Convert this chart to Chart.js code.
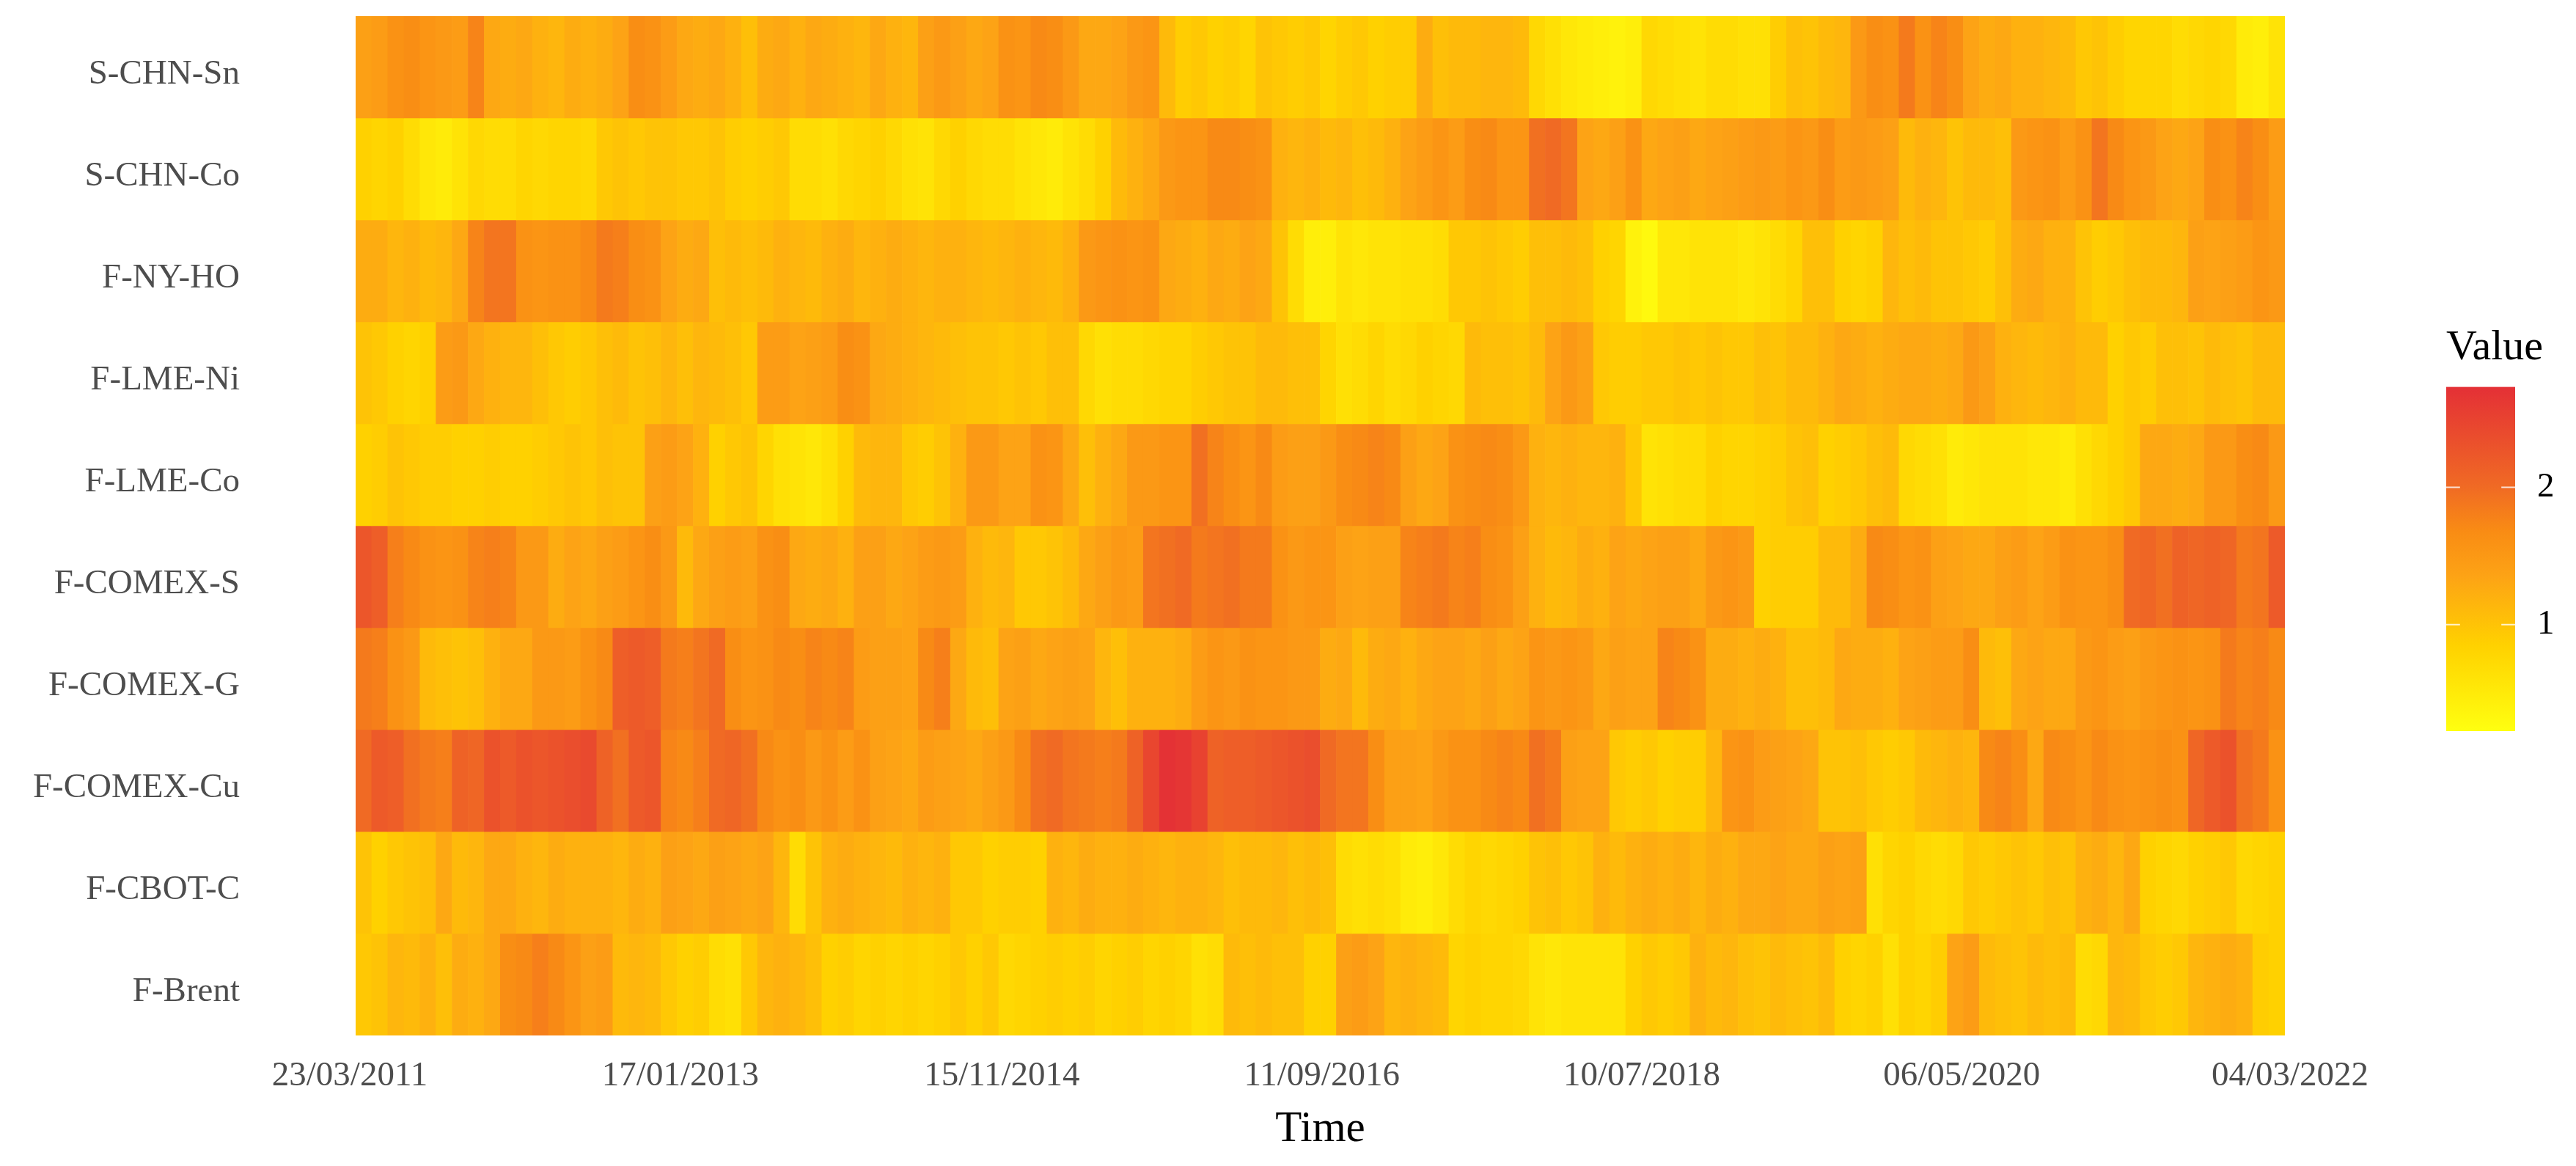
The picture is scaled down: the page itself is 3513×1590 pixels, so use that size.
<!DOCTYPE html>
<html>
<head>
<meta charset="utf-8">
<title>Heatmap</title>
<script src="https://cdn.jsdelivr.net/npm/chart.js@4/dist/chart.umd.min.js"></script>
<style>
    html, body { margin: 0; padding: 0; background: #fff; }
    #heat { position: absolute; left: 0; top: 0; }
    #bar { position: absolute; left: 3280px; top: 430px; }
</style>
</head>
<body>
<canvas id="heat" width="3513" height="1590"></canvas>
<canvas id="bar" width="233" height="590"></canvas>
<script>
// Row labels, top to bottom
const rowLabels = ['S-CHN-Sn', 'S-CHN-Co', 'F-NY-HO', 'F-LME-Ni', 'F-LME-Co', 'F-COMEX-S', 'F-COMEX-G', 'F-COMEX-Cu', 'F-CBOT-C', 'F-Brent'];

const dateLabels = ['23/03/2011', '17/01/2013', '15/11/2014', '11/09/2016', '10/07/2018', '06/05/2020', '04/03/2022'];
const datePositions = [-0.865, 19.7, 39.7, 59.6, 79.5, 99.4, 119.82];

// Values, 120 columns per row
const sChnSn = [1.4,1.45,1.6,1.65,1.55,1.5,1.45,1.75,1.3,1.25,1.3,1.2,1.15,1.25,1.2,1.25,1.35,1.65,1.6,1.45,1.3,1.25,1.3,1.2,1.05,1.25,1.3,1.2,1.3,1.25,1.2,1.15,1.3,1.2,1.15,1.4,1.5,
    1.4,1.3,1.35,1.6,1.55,1.7,1.65,1.5,1.3,1.3,1.35,1.5,1.55,1.1,.9,.95,.85,.9,.8,1.0,.95,.9,.95,.8,.9,.95,.85,.9,.9,1.25,1.05,1.1,1.1,1.15,1.15,1.1,.75,.65,.55,.5,.45,.4,.45,.75,.7,.65,.6,.7,.7,.65,.65,.9,1.05,1.0,1.1,
    1.15,1.5,1.65,1.6,1.85,1.6,1.75,1.65,1.35,1.25,1.3,1.2,1.2,1.15,1.1,.95,1.0,.9,.8,.8,.8,.7,.75,.8,.75,.5,.45,.6];
const sChnCo = [.85,.8,.85,.7,.55,.5,.6,.75,.7,.7,.8,.75,.8,.8,.75,.95,1.0,.95,1.0,1.0,.95,.95,1.0,.9,.85,.9,.95,.7,.7,.65,.75,.8,.85,.75,.65,.6,.75,
    .85,.75,.7,.7,.6,.55,.5,.6,.7,.85,1.1,1.2,1.3,1.5,1.55,1.55,1.7,1.7,1.65,1.6,1.2,1.15,1.2,1.1,1.15,1.05,1.1,1.2,1.35,1.45,1.55,1.45,1.65,1.7,1.55,1.55,1.95,2.0,1.9,1.35,1.3,1.4,1.6,1.3,1.35,1.4,1.3,1.35,1.4,1.45,1.5,1.45,1.55,1.5,1.65,
    1.45,1.5,1.45,1.4,1.1,1.2,1.15,1.0,1.1,1.1,1.05,1.5,1.55,1.6,1.45,1.6,1.9,1.7,1.55,1.5,1.35,1.3,1.35,1.65,1.6,1.75,1.65,1.45];
const fNyHo = [1.25,1.25,1.15,1.2,1.1,1.15,1.3,1.75,1.9,1.9,1.6,1.55,1.6,1.6,1.7,1.85,1.8,1.65,1.6,1.35,1.25,1.3,1.05,1.1,1.05,1.1,1.2,1.15,1.1,1.2,1.25,1.15,1.2,1.25,1.2,1.15,1.2,
    1.2,1.15,1.1,1.15,1.2,1.15,1.1,1.2,1.5,1.55,1.6,1.55,1.6,1.3,1.25,1.2,1.3,1.25,1.35,1.3,1.0,.7,.45,.45,.6,.55,.6,.6,.65,.65,.7,.95,.95,1.0,.95,.9,1.05,1.05,1.1,1.05,.85,.8,.4,.3,.55,.55,.6,.6,.6,.55,.6,.7,.8,1.05,1.05,
    .85,.8,.85,1.15,1.05,1.1,1.0,1.0,.95,.9,1.05,1.25,1.3,1.2,1.2,1.0,.9,.95,1.05,1.1,1.1,1.15,1.4,1.35,1.4,1.45,1.55,1.5];
const fLmeNi = [1.0,.95,.85,.8,.85,1.45,1.5,1.3,1.2,1.15,1.15,1.05,.95,.9,.95,1.05,1.1,1.0,1.05,1.15,1.05,1.15,1.1,1.05,.95,1.45,1.45,1.35,1.4,1.45,1.65,1.6,1.3,1.25,1.2,1.15,1.1,
    1.05,1.0,1.0,.95,1.0,.95,1.05,1.05,.75,.65,.7,.7,.75,.8,.8,.9,.95,1.0,1.0,1.1,1.1,1.05,1.05,.8,.65,.7,.8,.7,.75,.85,.8,.75,1.1,1.05,1.05,1.0,1.1,1.35,1.5,1.4,.95,.9,.9,.95,.95,1.0,.95,1.0,.95,.95,1.05,1.0,1.1,1.1,1.2,
    1.3,1.25,1.2,1.25,1.3,1.3,1.25,1.3,1.5,1.4,1.2,1.15,1.1,1.15,1.2,1.1,1.1,.85,.95,.9,1.05,1.05,1.0,1.1,1.05,1.0,1.1,1.1];
const fLmeCo = [.85,.9,1.0,.95,.9,.9,.85,.85,.9,.85,.85,.9,.95,1.0,.95,1.05,1.0,1.0,1.4,1.45,1.35,1.2,.85,.95,1.0,.8,.65,.6,.55,.65,.85,1.1,1.15,1.15,.95,.9,1.0,
    1.2,1.5,1.5,1.35,1.35,1.6,1.55,1.3,1.05,1.2,1.3,1.5,1.5,1.55,1.55,1.95,1.75,1.65,1.55,1.7,1.45,1.4,1.4,1.5,1.65,1.7,1.75,1.7,1.4,1.3,1.35,1.6,1.65,1.7,1.65,1.5,1.2,1.15,1.2,1.15,1.15,1.2,.95,.6,.65,.7,.7,.85,.8,.8,.85,.9,1.0,1.05,.85,
    .9,.95,1.05,1.1,.75,.7,.65,.5,.55,.6,.6,.6,.55,.55,.5,.65,.75,.85,.95,1.3,1.3,1.25,1.3,1.5,1.5,1.65,1.7,1.5];
const fComexS = [2.25,2.15,1.8,1.7,1.6,1.55,1.6,1.75,1.8,1.75,1.5,1.5,1.25,1.35,1.3,1.4,1.45,1.55,1.65,1.5,1.1,1.3,1.4,1.45,1.4,1.6,1.65,1.3,1.25,1.3,1.2,1.4,1.4,1.3,1.35,1.45,1.5,
    1.45,1.2,1.1,1.15,.95,.95,1.0,1.1,1.3,1.4,1.5,1.45,1.9,1.95,2.0,1.85,1.9,1.95,1.85,1.85,1.6,1.5,1.55,1.55,1.4,1.35,1.4,1.4,1.75,1.8,1.85,1.75,1.8,1.65,1.6,1.4,1.2,1.1,1.15,1.25,1.2,1.35,1.3,1.35,1.4,1.4,1.3,1.5,1.55,1.5,.85,.9,.9,.9,1.1,
    1.1,1.25,1.7,1.65,1.55,1.6,1.4,1.35,1.3,1.3,1.4,1.45,1.35,1.45,1.6,1.55,1.55,1.65,2.0,2.05,1.95,2.1,2.05,2.1,2.05,1.85,1.9,2.2];
const fComexG = [1.85,1.8,1.6,1.5,1.1,1.05,1.0,1.05,1.2,1.3,1.3,1.5,1.5,1.45,1.6,1.7,2.15,2.2,2.15,1.85,1.8,1.9,2.0,1.65,1.55,1.6,1.7,1.65,1.75,1.7,1.75,1.45,1.4,1.4,1.35,1.7,1.8,
    1.3,1.1,1.05,1.35,1.4,1.3,1.35,1.4,1.35,1.15,1.05,1.2,1.2,1.2,1.25,1.45,1.55,1.5,1.6,1.55,1.55,1.5,1.5,1.25,1.3,1.1,1.25,1.3,1.2,1.3,1.35,1.35,1.3,1.4,1.3,1.35,1.55,1.5,1.55,1.5,1.3,1.4,1.35,1.35,1.75,1.7,1.6,1.25,1.25,1.2,1.25,1.2,1.05,1.05,1.1,
    1.3,1.25,1.25,1.2,1.35,1.4,1.45,1.45,1.65,1.1,1.05,1.3,1.35,1.3,1.3,1.5,1.55,1.45,1.4,1.5,1.55,1.6,1.55,1.6,1.85,1.75,1.8,1.7];
const fComexCu = [2.0,2.2,2.15,1.95,1.85,1.8,2.1,2.05,2.3,2.2,2.3,2.25,2.3,2.35,2.4,2.1,1.95,2.2,2.25,1.75,1.7,1.8,2.0,2.05,1.95,1.7,1.6,1.65,1.5,1.6,1.45,1.6,1.4,1.35,1.3,1.45,1.4,
    1.35,1.3,1.4,1.5,1.7,1.95,2.0,1.9,1.85,1.8,1.85,2.1,2.45,2.7,2.65,2.5,2.1,2.15,2.15,2.2,2.25,2.3,2.35,2.0,1.9,1.9,1.65,1.4,1.4,1.35,1.5,1.6,1.6,1.7,1.75,1.7,1.95,1.85,1.4,1.35,1.35,.95,.9,.95,.85,.9,.9,1.15,1.55,1.6,1.45,1.4,1.35,1.3,1.0,
    1.0,1.05,.95,.9,.95,1.1,1.15,1.2,1.15,1.7,1.75,1.65,1.3,1.7,1.65,1.55,1.7,1.6,1.55,1.6,1.65,1.6,2.05,2.2,2.3,1.95,1.85,1.6];
const fCbotC = [1.0,.85,.95,1.0,1.05,1.3,1.1,1.15,1.3,1.3,1.2,1.15,1.25,1.2,1.2,1.2,1.15,1.25,1.2,1.4,1.35,1.3,1.4,1.35,1.3,1.35,1.15,.7,1.0,1.2,1.25,1.2,1.15,1.1,1.2,1.15,1.2,
    .95,.95,.85,.9,.9,.85,1.2,1.15,1.25,1.2,1.2,1.25,1.2,1.15,1.2,1.2,1.15,1.05,1.1,1.1,1.15,1.05,1.1,1.05,.7,.65,.7,.65,.5,.45,.55,.7,.8,.75,.8,.85,1.0,1.05,.95,1.0,1.2,1.1,1.2,1.25,1.2,1.25,1.15,1.25,1.2,1.3,1.3,1.35,1.3,1.3,1.4,
    1.35,1.4,.65,.8,.85,.75,.7,.75,.95,.9,.95,1.0,.95,1.05,1.0,1.2,1.25,1.15,1.3,.85,.8,.75,.85,.9,.95,.75,.8,.85];
const fBrent = [.95,1.0,1.15,1.1,1.2,1.05,1.25,1.2,1.3,1.65,1.7,1.8,1.7,1.55,1.4,1.45,1.1,1.15,1.1,.95,.85,.9,.7,.65,.95,1.15,1.2,1.15,1.05,.85,.9,.8,.85,.8,.85,.8,.85,
    .95,.85,.95,.75,.8,.85,.9,.85,.9,.8,.85,.9,.8,.85,.8,.65,.7,1.1,1.05,1.1,1.05,1.05,.85,.85,1.4,1.45,1.35,1.15,1.2,1.15,1.1,.8,.85,.8,.8,.75,.6,.55,.6,.6,.6,.6,.85,.95,.9,.95,1.2,1.1,1.15,1.05,1.0,1.1,1.05,1.0,1.1,
    .85,.8,.85,.65,.85,.8,.9,1.35,1.45,1.1,1.05,1.0,1.1,1.05,1.1,.7,.75,1.15,1.1,.95,.9,.95,1.15,1.2,1.25,1.2,.9,.85];

const rowValues = [sChnSn, sChnCo, fNyHo, fLmeNi, fLmeCo, fComexS, fComexG, fComexCu, fCbotC, fBrent];

// Colour scale
const valueMin = 0.225;
const valueMax = 2.73;
const legendTicks = [1, 2];
const rampStops = [0, 0.25, 0.45, 0.58, 0.71, 1];
const rampColors = ['#FFFF10', '#FFD100', '#FDA315', '#F98C14', '#F06A24', '#E43036'];

function hexToRgb(hex) {
    return [1, 3, 5].map(i => parseInt(hex.slice(i, i + 2), 16));
}

function valueColor(v) {
    const t = Math.min(1, Math.max(0, (v - valueMin) / (valueMax - valueMin)));
    let i = 0;
    while (i < rampStops.length - 2 && t > rampStops[i + 1]) i++;
    const f = (t - rampStops[i]) / (rampStops[i + 1] - rampStops[i]);
    const a = hexToRgb(rampColors[i]);
    const b = hexToRgb(rampColors[i + 1]);
    const c = a.map((ch, k) => Math.round(ch + (b[k] - ch) * f));
    return `rgb(${c[0]}, ${c[1]}, ${c[2]})`;
}

const serif = 'Liberation Serif';

// Main heat map: one stacked bar dataset per row, one unit high
new Chart(document.getElementById('heat'), {
    type: 'bar',
    data: {
        labels: sChnSn.map((_, i) => i),
        datasets: rowLabels.map((name, r) => ({
            label: name,
            data: rowValues[r].map(() => 1),
            backgroundColor: rowValues[r].map(valueColor),
            borderWidth: 0,
            barPercentage: 1,
            categoryPercentage: 1
        }))
    },
    options: {
        responsive: false,
        animation: false,
        layout: { padding: { top: 22, right: 397 } },
        plugins: { legend: { display: false }, tooltip: { enabled: false } },
        scales: {
            x: {
                stacked: true,
                grid: { display: false, drawTicks: false },
                border: { display: false },
                afterBuildTicks: scale => { scale.ticks = datePositions.map(v => ({ value: v })); },
                afterFit: scale => { scale.height = 178; },
                ticks: {
                    autoSkip: false,
                    maxRotation: 0,
                    padding: 27,
                    color: '#4d4d4d',
                    font: { family: serif, size: 47 },
                    callback: (value, i) => dateLabels[i]
                },
                title: {
                    display: true,
                    text: 'Time',
                    color: '#000',
                    font: { family: serif, size: 59 },
                    padding: { top: 0, bottom: 14 }
                }
            },
            y: {
                stacked: true,
                reverse: true,
                min: 0,
                max: rowLabels.length,
                grid: { display: false, drawTicks: false },
                border: { display: false },
                afterBuildTicks: scale => { scale.ticks = rowLabels.map((_, r) => ({ value: r + 0.57 })); },
                // the big tick padding must not push the plot area in
                afterFit: scale => { scale.width = 485; scale.paddingTop = 0; scale.paddingBottom = 0; },
                ticks: {
                    autoSkip: false,
                    padding: 158,
                    color: '#4d4d4d',
                    font: { family: serif, size: 47 },
                    callback: (value, i) => rowLabels[i]
                }
            }
        }
    }
});

// White tick marks inside the colour bar
const barTicks = {
    id: 'barTicks',
    afterDatasetsDraw(chart) {
        const { ctx, chartArea, scales } = chart;
        const len = (chartArea.right - chartArea.left) * 0.2;
        ctx.save();
        ctx.strokeStyle = 'rgba(255, 255, 255, 0.8)';
        ctx.lineWidth = 2;
        legendTicks.forEach(v => {
            const y = scales.y.getPixelForValue(v);
            ctx.beginPath();
            ctx.moveTo(chartArea.left, y);
            ctx.lineTo(chartArea.left + len, y);
            ctx.moveTo(chartArea.right - len, y);
            ctx.lineTo(chartArea.right, y);
            ctx.stroke();
        });
        ctx.restore();
    }
};

function barGradient(context) {
    const area = context.chart.chartArea;
    if (!area) return rampColors[0];
    const g = context.chart.ctx.createLinearGradient(0, area.bottom, 0, area.top);
    rampStops.forEach((s, i) => g.addColorStop(s, rampColors[i]));
    return g;
}

// Colour legend
new Chart(document.getElementById('bar'), {
    type: 'bar',
    data: {
        labels: ['Value'],
        datasets: [{
            data: [[valueMin, valueMax]],
            backgroundColor: barGradient,
            borderWidth: 0,
            borderSkipped: false,
            barPercentage: 1,
            categoryPercentage: 1
        }]
    },
    plugins: [barTicks],
    options: {
        responsive: false,
        animation: false,
        layout: { padding: { left: 56, bottom: 23 } },
        plugins: {
            legend: { display: false },
            tooltip: { enabled: false },
            title: {
                display: true,
                text: 'Value',
                align: 'start',
                color: '#000',
                font: { family: serif, size: 58, weight: 'normal' },
                padding: { top: 10, bottom: 18 }
            }
        },
        scales: {
            x: { display: false },
            y: {
                position: 'right',
                min: valueMin,
                max: valueMax,
                grid: { display: false, drawTicks: false },
                border: { display: false },
                afterBuildTicks: scale => { scale.ticks = legendTicks.map(v => ({ value: v })); },
                afterFit: scale => { scale.width = 83; scale.paddingTop = 0; scale.paddingBottom = 0; },
                ticks: {
                    padding: 30,
                    color: '#000',
                    font: { family: serif, size: 47 }
                }
            }
        }
    }
});
</script>
</body>
</html>
